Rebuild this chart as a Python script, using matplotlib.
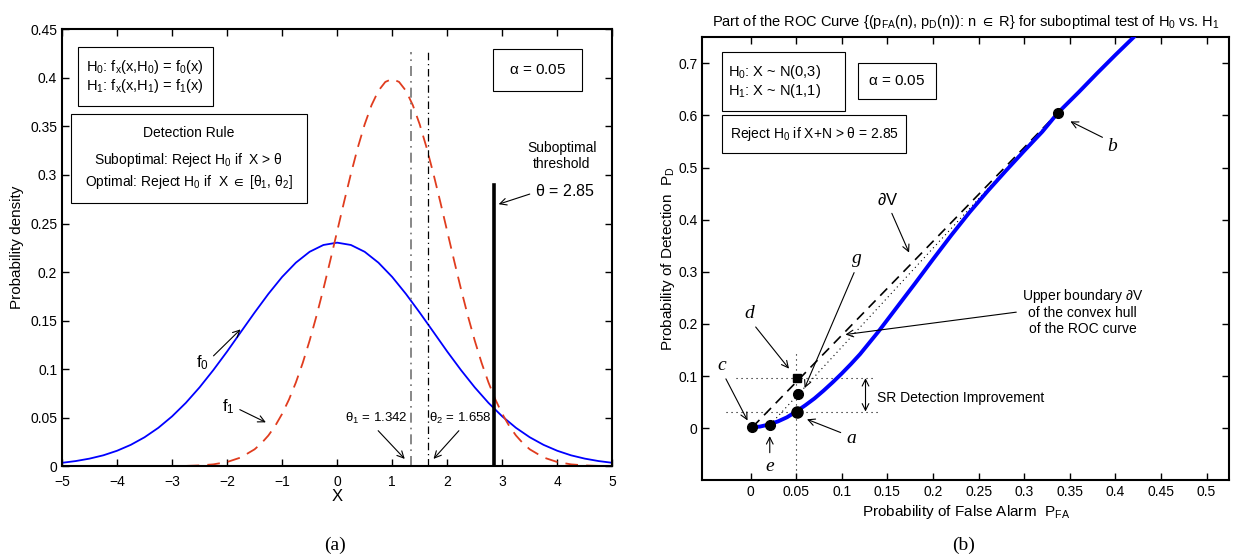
import numpy as np
import matplotlib
matplotlib.use('Agg')
import matplotlib.pyplot as plt
from matplotlib.patches import Rectangle

plt.rcParams['font.family'] = ['Liberation Sans', 'DejaVu Sans']
plt.rcParams['mathtext.fontset'] = 'custom'
plt.rcParams['mathtext.rm'] = 'Liberation Sans'
plt.rcParams['mathtext.it'] = 'Liberation Sans:italic'
plt.rcParams['mathtext.default'] = 'regular'
plt.rcParams['xtick.direction'] = 'in'
plt.rcParams['ytick.direction'] = 'in'

# ---- (a) densities ----
x0_vals = [-5.0, -4.75, -4.5, -4.25, -4.0, -3.75, -3.5, -3.25, -3.0, -2.75, -2.5, -2.25,
           -2.0, -1.75, -1.5, -1.25, -1.0, -0.75, -0.5, -0.25, 0.0, 0.25, 0.5, 0.75,
           1.0, 1.25, 1.5, 1.75, 2.0, 2.25, 2.5, 2.75, 3.0, 3.25, 3.5, 3.75, 4.0,
           4.25, 4.5, 4.75, 5.0]
f0_vals = [0.0036, 0.0054, 0.0079, 0.0113, 0.0160, 0.0221, 0.0299, 0.0396, 0.0514,
           0.0653, 0.0813, 0.0991, 0.1182, 0.1383, 0.1583, 0.1775, 0.1950, 0.2097,
           0.2209, 0.2279, 0.2303, 0.2279, 0.2209, 0.2097, 0.1950, 0.1775, 0.1583,
           0.1383, 0.1182, 0.0991, 0.0813, 0.0653, 0.0514, 0.0396, 0.0299, 0.0221,
           0.0160, 0.0113, 0.0079, 0.0054, 0.0036]
x1_vals = [-5.0, -4.5, -4.0, -3.5, -3.0, -2.75, -2.5, -2.25, -2.0, -1.75, -1.5, -1.375,
           -1.25, -1.125, -1.0, -0.875, -0.75, -0.625, -0.5, -0.375, -0.25, -0.125,
           0.0, 0.125, 0.25, 0.375, 0.5, 0.625, 0.75, 0.875, 1.0, 1.125, 1.25, 1.375,
           1.5, 1.625, 1.75, 1.875, 2.0, 2.125, 2.25, 2.375, 2.5, 2.625, 2.75, 2.875,
           3.0, 3.125, 3.25, 3.375, 3.5, 3.75, 4.0, 4.25, 4.5, 4.75, 5.0]
f1_vals = [0.0, 0.0, 0.0, 0.0, 0.0001, 0.0004, 0.0009, 0.0020, 0.0044, 0.0091, 0.0175,
           0.0238, 0.0317, 0.0417, 0.0540, 0.0688, 0.0863, 0.1065, 0.1295, 0.1550,
           0.1826, 0.2119, 0.2420, 0.2721, 0.3011, 0.3282, 0.3521, 0.3719, 0.3867,
           0.3958, 0.3989, 0.3958, 0.3867, 0.3719, 0.3521, 0.3282, 0.3011, 0.2721,
           0.2420, 0.2119, 0.1826, 0.1550, 0.1295, 0.1065, 0.0863, 0.0688, 0.0540,
           0.0417, 0.0317, 0.0238, 0.0175, 0.0091, 0.0044, 0.0020, 0.0009, 0.0004,
           0.0001]
theta1 = 1.342
theta2 = 1.658
theta_sub = 2.85
theta_line_top = 0.427
sub_line_top = 0.29

# ---- (b) ROC curve ----
pfa_vals = [0.002, 0.01, 0.02, 0.03, 0.04, 0.05, 0.06, 0.07, 0.08, 0.09, 0.10, 0.11,
            0.12, 0.14, 0.16, 0.18, 0.20, 0.22, 0.24, 0.26, 0.28, 0.30, 0.32, 0.337,
            0.36, 0.38, 0.40, 0.42]
pd_vals = [0.002, 0.003, 0.007, 0.013, 0.021, 0.032, 0.044, 0.057, 0.072, 0.088, 0.105,
           0.123, 0.142, 0.185, 0.231, 0.277, 0.324, 0.370, 0.414, 0.455, 0.494, 0.532,
           0.569, 0.605, 0.645, 0.681, 0.716, 0.750]
pt_a = (0.051, 0.032)
pt_b = (0.337, 0.605)
pt_c = (0.002, 0.002)
pt_d = (0.051, 0.096)
pt_e = (0.0216, 0.007)
pt_g = (0.052, 0.065)

fig = plt.figure(figsize=(12.34, 5.59), dpi=100)
W, H = 1234.0, 559.0
ax1 = fig.add_axes([62 / W, 1 - 466.3 / H, 550.3 / W, 437 / H])
ax2 = fig.add_axes([702.3 / W, 1 - 480.3 / H, 527 / W, 443 / H])

for ax in (ax1, ax2):
    for s in ax.spines.values():
        s.set_linewidth(1.5)
    ax.tick_params(top=True, right=True, labelsize=10, length=5, width=1)
ax1.tick_params(axis='x', pad=6)

# ================= (a) =================
ax1.plot(x0_vals, f0_vals, color='blue', lw=1.3)
ax1.plot(x1_vals, f1_vals, color='#E03C1E', lw=1.3, dashes=(7, 4.5))
ax1.plot([theta1, theta1], [0, theta_line_top], color='0.45', lw=1.2, dashes=(6, 3, 1, 3))
ax1.plot([theta2, theta2], [0, theta_line_top], color='black', lw=0.9, dashes=(6, 3, 1, 3))
ax1.plot([theta_sub, theta_sub], [0, sub_line_top], color='black', lw=2.6)
ax1.set_xlim(-5, 5)
ax1.set_ylim(0, 0.45)
ax1.set_xticks(np.arange(-5, 6, 1))
ax1.set_yticks(np.arange(0, 0.451, 0.05))
ax1.set_yticklabels(['0', '0.05', '0.1', '0.15', '0.2', '0.25', '0.3', '0.35', '0.4', '0.45'])
ax1.set_xlabel('X', fontsize=12, labelpad=0)
ax1.set_ylabel('Probability density', fontsize=11, labelpad=4)

# text boxes
ax1.add_patch(Rectangle((-4.709, 0.371), 2.458, 0.061, fill=False, lw=0.8))
ax1.text(-4.56, 0.4015, 'H$_0$: f$_x$(x,H$_0$) = f$_0$(x)\nH$_1$: f$_x$(x,H$_1$) = f$_1$(x)',
         fontsize=10.5, va='center', ha='left', linespacing=1.05)
ax1.add_patch(Rectangle((-4.842, 0.2714), 4.289, 0.0911, fill=False, lw=0.8))
ax1.text(-2.70, 0.343, 'Detection Rule', fontsize=10, ha='center', va='center')
ax1.text(-2.70, 0.315, r'Suboptimal: Reject H$_0$ if  X > $\theta$', fontsize=10,
         ha='center', va='center')
ax1.text(-2.70, 0.293, r'Optimal: Reject H$_0$ if  X $\in$ [$\theta_1$, $\theta_2$]', fontsize=10,
         ha='center', va='center')
ax1.add_patch(Rectangle((2.838, 0.3868), 1.606, 0.0426, fill=False, lw=0.8))
ax1.text(3.64, 0.408, r'$\alpha$ = 0.05', fontsize=11, ha='center', va='center')

arrow = dict(arrowstyle='->', lw=0.8, color='black', mutation_scale=12)
ax1.text(4.08, 0.3195, 'Suboptimal\nthreshold', fontsize=10, ha='center', va='center',
         linespacing=1.1)
ax1.annotate(r'$\theta$ = 2.85', xy=(2.887, 0.269), xytext=(4.14, 0.2838), fontsize=11.5,
             ha='center', va='center', arrowprops=dict(arrow, relpos=(0.0, 0.4)))
ax1.annotate('f$_0$', xy=(-1.72, 0.143), xytext=(-2.45, 0.107), fontsize=12,
             ha='center', va='center', arrowprops=dict(arrow, relpos=(1.0, 0.6)))
ax1.annotate('f$_1$', xy=(-1.25, 0.044), xytext=(-1.98, 0.061), fontsize=12,
             ha='center', va='center', arrowprops=dict(arrow, relpos=(1.0, 0.5)))
ax1.annotate(r'$\theta_1$ = 1.342', xy=(1.263, 0.0055), xytext=(0.72, 0.0494), fontsize=9.5,
             ha='center', va='center', arrowprops=dict(arrow, relpos=(0.45, 0.0)))
ax1.annotate(r'$\theta_2$ = 1.658', xy=(1.718, 0.0055), xytext=(2.234, 0.0494), fontsize=9.5,
             ha='center', va='center', arrowprops=dict(arrow, relpos=(0.55, 0.0)))

# ================= (b) =================
ax2.plot(pfa_vals, pd_vals, color='blue', lw=2.8, zorder=3)
ax2.plot([pt_c[0], pt_b[0]], [pt_c[1], pt_b[1]], color='black', lw=1.2, dashes=(6, 4), zorder=2)
ax2.plot([pt_e[0], pt_b[0]], [pt_e[1], pt_b[1]], color='black', lw=0.8, dashes=(1, 3), zorder=2)
ax2.plot([-0.016, 0.136], [pt_d[1], pt_d[1]], color='black', lw=0.8, dashes=(1, 3.5))
ax2.plot([-0.027, 0.140], [pt_a[1], pt_a[1]], color='black', lw=0.8, dashes=(1, 3.5))
ax2.plot([0.05, 0.05], [-0.1, 0.15], color='black', lw=0.8, dashes=(1, 3.5))
for p in (pt_a, pt_b, pt_c, pt_e, pt_g):
    ax2.plot(p[0], p[1], 'o', color='black', ms=8 if p == pt_a else 7, zorder=5)
ax2.plot(pt_d[0], pt_d[1], 's', color='black', ms=6, zorder=5)
ax2.annotate('', xy=(0.126, pt_a[1]), xytext=(0.126, pt_d[1]),
             arrowprops=dict(arrowstyle='<->', lw=0.8, color='black', mutation_scale=12,
                             shrinkA=0, shrinkB=0))
ax2.text(0.139, 0.058, 'SR Detection Improvement', fontsize=10, ha='left', va='center')

ax2.set_xlim(-0.053, 0.525)
ax2.set_ylim(-0.1, 0.75)
ax2.set_xticks(np.arange(0, 0.501, 0.05))
ax2.set_xticklabels(['0', '0.05', '0.1', '0.15', '0.2', '0.25', '0.3', '0.35', '0.4', '0.45', '0.5'])
ax2.set_yticks(np.arange(0, 0.71, 0.1))
ax2.set_yticklabels(['0', '0.1', '0.2', '0.3', '0.4', '0.5', '0.6', '0.7'])
ax2.set_xlabel('Probability of False Alarm  P$_{FA}$', fontsize=11, labelpad=3)
ax2.set_ylabel('Probability of Detection  P$_D$', fontsize=11, labelpad=1)
ax2.set_title(r'Part of the ROC Curve {(p$_{FA}$(n), p$_D$(n)): n $\in$ R} for suboptimal test of H$_0$ vs. H$_1$',
              fontsize=10.5, pad=8)

ax2.add_patch(Rectangle((-0.0318, 0.609), 0.1348, 0.112, fill=False, lw=0.8))
ax2.text(-0.025, 0.665, 'H$_0$: X ~ N(0,3)\nH$_1$: X ~ N(1,1)', fontsize=10.5,
         ha='left', va='center', linespacing=1.1)
ax2.add_patch(Rectangle((0.118, 0.632), 0.085, 0.068, fill=False, lw=0.8))
ax2.text(0.160, 0.666, r'$\alpha$ = 0.05', fontsize=11, ha='center', va='center')
ax2.add_patch(Rectangle((-0.0318, 0.528), 0.2018, 0.072, fill=False, lw=0.8))
ax2.text(-0.023, 0.564, r'Reject H$_0$ if X+N > $\theta$ = 2.85', fontsize=10,
         ha='left', va='center')

lab = dict(fontsize=14, family='Liberation Serif', style='italic', ha='center', va='center')
ax2.annotate('a', xy=(0.059, 0.019), xytext=(0.110, -0.019), arrowprops=dict(arrow, relpos=(0.0, 0.7)), **lab)
ax2.annotate('b', xy=(0.348, 0.591), xytext=(0.397, 0.540), arrowprops=dict(arrow, relpos=(0.0, 0.9)), **lab)
ax2.annotate('c', xy=(-0.002, 0.010), xytext=(-0.032, 0.121), arrowprops=dict(arrow, relpos=(0.7, 0.0)), **lab)
ax2.annotate('d', xy=(0.044, 0.110), xytext=(-0.002, 0.220), arrowprops=dict(arrow, relpos=(0.8, 0.0)), **lab)
ax2.annotate('e', xy=(0.021, -0.010), xytext=(0.021, -0.074), arrowprops=dict(arrow, relpos=(0.5, 1.0)), **lab)
ax2.annotate('g', xy=(0.058, 0.072), xytext=(0.116, 0.325), arrowprops=dict(arrow, relpos=(0.5, 0.0)), **lab)
ax2.annotate(r'$\partial$V', xy=(0.175, 0.332), xytext=(0.150, 0.438), fontsize=12,
             ha='center', va='center', arrowprops=dict(arrow, relpos=(0.6, 0.0)))
ax2.annotate('Upper boundary $\\partial$V\nof the convex hull\nof the ROC curve', xy=(0.101, 0.179),
             xytext=(0.364, 0.224), fontsize=10, ha='center', va='center', linespacing=1.1,
             arrowprops=dict(arrow, relpos=(0.0, 0.5)))

fig.text(335 / W, 1 - 545 / H, '(a)', fontsize=14, family='Liberation Serif', ha='center', va='center')
fig.text(964 / W, 1 - 545 / H, '(b)', fontsize=14, family='Liberation Serif', ha='center', va='center')

fig.savefig('out.png', dpi=100, facecolor='white')
